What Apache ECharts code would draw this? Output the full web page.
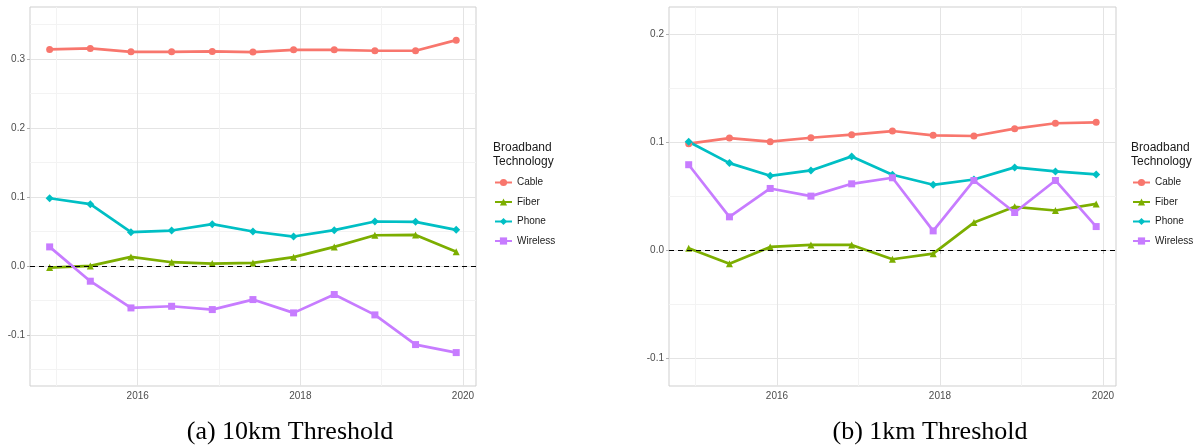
<!DOCTYPE html>
<html>
<head>
<meta charset="utf-8">
<script src="https://cdn.jsdelivr.net/npm/echarts@6/dist/echarts.min.js"></script>
<style>
  html, body { margin: 0; padding: 0; background: #ffffff; }
  #chart { width: 1198px; height: 446px; }
</style>
</head>
<body>
<div id="chart"></div>
<script>
// Survey periods (half-yearly, December / June)
const periods = ['2014-12', '2015-06', '2015-12', '2016-06', '2016-12', '2017-06',
                 '2017-12', '2018-06', '2018-12', '2019-06', '2019-12'];

const technologies = ['Cable', 'Fiber', 'Phone', 'Wireless'];

// Panel (a): 10km threshold
const cable10    = [0.3135, 0.3150, 0.3100, 0.3100, 0.3106, 0.3097, 0.3130, 0.3130, 0.3116, 0.3116, 0.3270];
const fiber10    = [-0.0024, 0.0000, 0.0130, 0.0053, 0.0034, 0.0043, 0.0126, 0.0275, 0.0444, 0.0449, 0.0203];
const phone10    = [0.0980, 0.0894, 0.0488, 0.0512, 0.0604, 0.0498, 0.0425, 0.0517, 0.0643, 0.0638, 0.0522];
const wireless10 = [0.0275, -0.0222, -0.0609, -0.0585, -0.0633, -0.0488, -0.0681, -0.0415, -0.0710, -0.1140, -0.1256];

// Panel (b): 1km threshold
const cable1    = [0.0991, 0.1043, 0.1009, 0.1046, 0.1074, 0.1108, 0.1068, 0.1062, 0.1130, 0.1180, 0.1189];
const fiber1    = [0.0022, -0.0121, 0.0034, 0.0053, 0.0053, -0.0080, -0.0028, 0.0260, 0.0406, 0.0372, 0.0433];
const phone1    = [0.1009, 0.0811, 0.0693, 0.0743, 0.0873, 0.0703, 0.0610, 0.0659, 0.0771, 0.0734, 0.0706];
const wireless1 = [0.0796, 0.0313, 0.0576, 0.0505, 0.0619, 0.0675, 0.0183, 0.0650, 0.0353, 0.0650, 0.0223];

const captions = ['(a) 10km Threshold', '(b) 1km Threshold'];
const legendTitle = 'Broadband\nTechnology';

const colors  = { Cable: '#F8766D', Fiber: '#7CAE00', Phone: '#00BFC4', Wireless: '#C77CFF' };
const symbols = { Cable: 'circle', Fiber: 'triangle', Phone: 'diamond', Wireless: 'rect' };

// Convert "YYYY-MM" to a decimal year for the continuous time axis
function toYear(p) {
  const [y, m] = p.split('-').map(Number);
  return y + (m - 1) / 12;
}
const xs = periods.map(toYear);

const panels = [
  { values: { Cable: cable10, Fiber: fiber10, Phone: phone10, Wireless: wireless10 },
    grid: { left: 30, top: 7, width: 446, height: 379 }, yMin: -0.174, yMax: 0.375,
    legendX: 494, captionX: 290 },
  { values: { Cable: cable1, Fiber: fiber1, Phone: phone1, Wireless: wireless1 },
    grid: { left: 669, top: 7, width: 447, height: 379 }, yMin: -0.1254, yMax: 0.2257,
    legendX: 1132, captionX: 930 }
];

const FONT = '"Liberation Sans", Arial, sans-serif';
const majorColor = '#e4e4e4';
const minorColor = '#f3f3f3';

function isMultiple(v, step) {
  const r = v / step;
  return Math.abs(r - Math.round(r)) < 1e-6;
}

const grids = [], xAxes = [], yAxes = [], series = [], legends = [], titles = [], graphics = [];

panels.forEach((p, i) => {
  grids.push(Object.assign({ show: true, borderColor: '#cfcfcf', borderWidth: 1, backgroundColor: 'transparent' }, p.grid));

  xAxes.push({
    type: 'value', gridIndex: i, min: 2014.675, max: 2020.16, splitNumber: 3,
    axisLine: { show: false },
    axisTick: { show: true, length: 3, lineStyle: { color: '#b3b3b3' } },
    axisLabel: {
      margin: 5, fontSize: 10, color: '#4d4d4d', fontFamily: FONT,
      showMinLabel: false, showMaxLabel: false,
      formatter: v => isMultiple(v, 1) ? String(Math.round(v)) : ''
    },
    splitLine: { show: true, showMinLine: false, showMaxLine: false, lineStyle: { color: majorColor, width: 1 } },
    minorTick: { show: false, splitNumber: 2 },
    minorSplitLine: { show: true, lineStyle: { color: minorColor, width: 1 } }
  });

  yAxes.push({
    type: 'value', gridIndex: i, min: p.yMin, max: p.yMax, splitNumber: 4,
    axisLine: { show: false },
    axisTick: { show: true, length: 3, lineStyle: { color: '#b3b3b3' } },
    axisLabel: {
      margin: 5, fontSize: 10, color: '#4d4d4d', fontFamily: FONT,
      showMinLabel: false, showMaxLabel: false,
      formatter: v => isMultiple(v, 0.1) ? v.toFixed(1) : ''
    },
    splitLine: { show: true, showMinLine: false, showMaxLine: false, lineStyle: { color: majorColor, width: 1 } },
    minorTick: { show: false, splitNumber: 2 },
    minorSplitLine: { show: true, lineStyle: { color: minorColor, width: 1 } }
  });

  // Reference line at zero
  series.push({
    type: 'line', xAxisIndex: i, yAxisIndex: i, data: [], silent: true, z: 1,
    markLine: {
      silent: true, symbol: 'none', label: { show: false },
      lineStyle: { color: '#000000', type: [5, 4], width: 1.2 },
      data: [{ yAxis: 0 }]
    }
  });

  technologies.forEach(t => {
    series.push({
      name: t, type: 'line', xAxisIndex: i, yAxisIndex: i, z: 3,
      data: xs.map((x, k) => [x, p.values[t][k]]),
      symbol: symbols[t], symbolSize: t === 'Phone' ? 8 : 7,
      lineStyle: { color: colors[t], width: 2.7 },
      itemStyle: { color: colors[t] },
      emphasis: { disabled: true }
    });
  });

  legends.push({
    data: technologies, orient: 'vertical', left: p.legendX, top: 176.5,
    itemWidth: 17, itemHeight: 9, itemGap: 7.5, padding: 0, selectedMode: false,
    textStyle: { fontSize: 10, color: '#1a1a1a', fontFamily: FONT, lineHeight: 12 }
  });

  titles.push({
    text: legendTitle, left: p.legendX - 1, top: 141, padding: 0,
    textStyle: { fontSize: 12, fontWeight: 'normal', color: '#1a1a1a', fontFamily: FONT, lineHeight: 14 }
  });

  graphics.push({
    type: 'text', x: p.captionX, y: 432,
    style: { text: captions[i], fill: '#000000', font: '26px "Liberation Serif", "Times New Roman", serif',
             textAlign: 'center', textVerticalAlign: 'middle' }
  });
});

const chart = echarts.init(document.getElementById('chart'), null, { renderer: 'canvas' });
chart.setOption({
  animation: false,
  color: technologies.map(t => colors[t]),
  title: titles,
  legend: legends,
  grid: grids,
  xAxis: xAxes,
  yAxis: yAxes,
  series: series,
  graphic: graphics
});
</script>
</body>
</html>
